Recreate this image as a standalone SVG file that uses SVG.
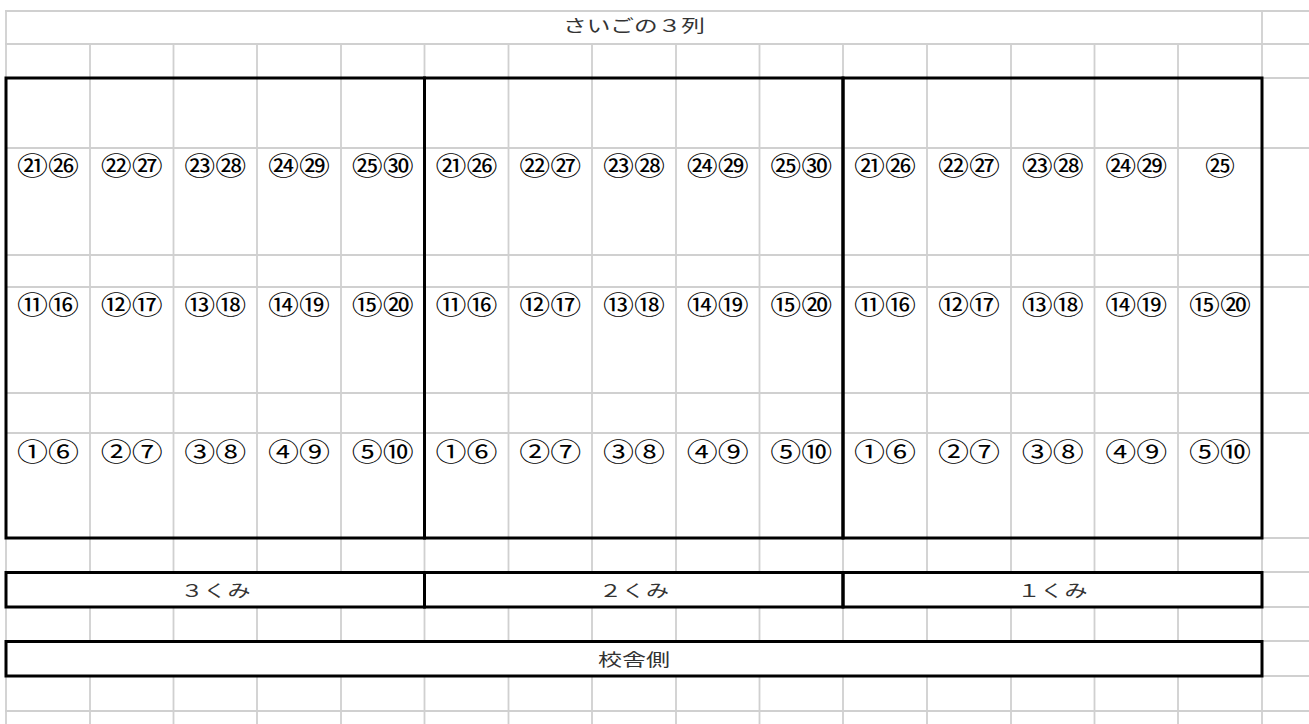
<svg xmlns="http://www.w3.org/2000/svg" width="1309" height="724" viewBox="0 0 1309 724">
<style>
.g{stroke:#d0d0d0;stroke-width:1.8;fill:none}
.b{stroke:#000;stroke-width:3;fill:none}
.n{font-family:"Noto Sans CJK JP","Liberation Sans",sans-serif;font-size:25px;fill:#000;text-anchor:middle}
.l{font-family:"Noto Sans CJK JP","Liberation Sans",sans-serif;font-size:17px;fill:#333;text-anchor:middle}
</style>
<rect width="1309" height="724" fill="#fff"/>
<g id="grid">
<path class="g" d="M5 11H1309M5 44H1309M5 78H1309M5 148H1309M5 255H1309M5 287H1309M5 393H1309M5 433H1309M5 538H1309M5 572H1309M5 607H1309M5 641H1309M5 676H1309M5 711H1309"/>
<path class="g" d="M6 11V724M1262 11V724"/>
<path class="g" d="M90 44V572M173.5 44V572M257 44V572M341 44V572M424.5 44V572M508.5 44V572M592 44V572M676 44V572M759.5 44V572M843 44V572M927 44V572M1011 44V572M1094.5 44V572M1178 44V572"/>
<path class="g" d="M90 607V641M173.5 607V641M257 607V641M341 607V641M424.5 607V641M508.5 607V641M592 607V641M676 607V641M759.5 607V641M843 607V641M927 607V641M1011 607V641M1094.5 607V641M1178 607V641"/>
<path class="g" d="M90 676V724M173.5 676V724M257 676V724M341 676V724M424.5 676V724M508.5 676V724M592 676V724M676 676V724M759.5 676V724M843 676V724M927 676V724M1011 676V724M1094.5 676V724M1178 676V724"/>
</g>
<g id="title">
<text class="l" x="634" y="31.5" textLength="142" lengthAdjust="spacingAndGlyphs">さいごの３列</text>
</g>
<g id="block-3">
<rect class="b" x="6" y="78" width="418.5" height="460"/>
<text class="n" x="48" y="175" textLength="62" lengthAdjust="spacingAndGlyphs">㉑㉖</text>
<text class="n" x="131.75" y="175" textLength="62" lengthAdjust="spacingAndGlyphs">㉒㉗</text>
<text class="n" x="215.25" y="175" textLength="62" lengthAdjust="spacingAndGlyphs">㉓㉘</text>
<text class="n" x="299" y="175" textLength="62" lengthAdjust="spacingAndGlyphs">㉔㉙</text>
<text class="n" x="382.75" y="175" textLength="62" lengthAdjust="spacingAndGlyphs">㉕㉚</text>
<text class="n" x="48" y="313.5" textLength="62" lengthAdjust="spacingAndGlyphs">⑪⑯</text>
<text class="n" x="131.75" y="313.5" textLength="62" lengthAdjust="spacingAndGlyphs">⑫⑰</text>
<text class="n" x="215.25" y="313.5" textLength="62" lengthAdjust="spacingAndGlyphs">⑬⑱</text>
<text class="n" x="299" y="313.5" textLength="62" lengthAdjust="spacingAndGlyphs">⑭⑲</text>
<text class="n" x="382.75" y="313.5" textLength="62" lengthAdjust="spacingAndGlyphs">⑮⑳</text>
<text class="n" x="48" y="460.5" textLength="62" lengthAdjust="spacingAndGlyphs">①⑥</text>
<text class="n" x="131.75" y="460.5" textLength="62" lengthAdjust="spacingAndGlyphs">②⑦</text>
<text class="n" x="215.25" y="460.5" textLength="62" lengthAdjust="spacingAndGlyphs">③⑧</text>
<text class="n" x="299" y="460.5" textLength="62" lengthAdjust="spacingAndGlyphs">④⑨</text>
<text class="n" x="382.75" y="460.5" textLength="62" lengthAdjust="spacingAndGlyphs">⑤⑩</text>
</g>
<g id="block-2">
<rect class="b" x="424.5" y="78" width="418.5" height="460"/>
<text class="n" x="466.5" y="175" textLength="62" lengthAdjust="spacingAndGlyphs">㉑㉖</text>
<text class="n" x="550.25" y="175" textLength="62" lengthAdjust="spacingAndGlyphs">㉒㉗</text>
<text class="n" x="634" y="175" textLength="62" lengthAdjust="spacingAndGlyphs">㉓㉘</text>
<text class="n" x="717.75" y="175" textLength="62" lengthAdjust="spacingAndGlyphs">㉔㉙</text>
<text class="n" x="801.25" y="175" textLength="62" lengthAdjust="spacingAndGlyphs">㉕㉚</text>
<text class="n" x="466.5" y="313.5" textLength="62" lengthAdjust="spacingAndGlyphs">⑪⑯</text>
<text class="n" x="550.25" y="313.5" textLength="62" lengthAdjust="spacingAndGlyphs">⑫⑰</text>
<text class="n" x="634" y="313.5" textLength="62" lengthAdjust="spacingAndGlyphs">⑬⑱</text>
<text class="n" x="717.75" y="313.5" textLength="62" lengthAdjust="spacingAndGlyphs">⑭⑲</text>
<text class="n" x="801.25" y="313.5" textLength="62" lengthAdjust="spacingAndGlyphs">⑮⑳</text>
<text class="n" x="466.5" y="460.5" textLength="62" lengthAdjust="spacingAndGlyphs">①⑥</text>
<text class="n" x="550.25" y="460.5" textLength="62" lengthAdjust="spacingAndGlyphs">②⑦</text>
<text class="n" x="634" y="460.5" textLength="62" lengthAdjust="spacingAndGlyphs">③⑧</text>
<text class="n" x="717.75" y="460.5" textLength="62" lengthAdjust="spacingAndGlyphs">④⑨</text>
<text class="n" x="801.25" y="460.5" textLength="62" lengthAdjust="spacingAndGlyphs">⑤⑩</text>
</g>
<g id="block-1">
<rect class="b" x="843" y="78" width="419" height="460"/>
<text class="n" x="885" y="175" textLength="62" lengthAdjust="spacingAndGlyphs">㉑㉖</text>
<text class="n" x="969" y="175" textLength="62" lengthAdjust="spacingAndGlyphs">㉒㉗</text>
<text class="n" x="1052.75" y="175" textLength="62" lengthAdjust="spacingAndGlyphs">㉓㉘</text>
<text class="n" x="1136.25" y="175" textLength="62" lengthAdjust="spacingAndGlyphs">㉔㉙</text>
<text class="n" x="1220" y="175" textLength="30" lengthAdjust="spacingAndGlyphs">㉕</text>
<text class="n" x="885" y="313.5" textLength="62" lengthAdjust="spacingAndGlyphs">⑪⑯</text>
<text class="n" x="969" y="313.5" textLength="62" lengthAdjust="spacingAndGlyphs">⑫⑰</text>
<text class="n" x="1052.75" y="313.5" textLength="62" lengthAdjust="spacingAndGlyphs">⑬⑱</text>
<text class="n" x="1136.25" y="313.5" textLength="62" lengthAdjust="spacingAndGlyphs">⑭⑲</text>
<text class="n" x="1220" y="313.5" textLength="62" lengthAdjust="spacingAndGlyphs">⑮⑳</text>
<text class="n" x="885" y="460.5" textLength="62" lengthAdjust="spacingAndGlyphs">①⑥</text>
<text class="n" x="969" y="460.5" textLength="62" lengthAdjust="spacingAndGlyphs">②⑦</text>
<text class="n" x="1052.75" y="460.5" textLength="62" lengthAdjust="spacingAndGlyphs">③⑧</text>
<text class="n" x="1136.25" y="460.5" textLength="62" lengthAdjust="spacingAndGlyphs">④⑨</text>
<text class="n" x="1220" y="460.5" textLength="62" lengthAdjust="spacingAndGlyphs">⑤⑩</text>
</g>
<g id="kumi-3">
<rect class="b" x="6" y="572.5" width="418.5" height="34.5"/>
<text class="l" x="215.5" y="596.5" textLength="70" lengthAdjust="spacingAndGlyphs">３くみ</text>
</g>
<g id="kumi-2">
<rect class="b" x="424.5" y="572.5" width="418.5" height="34.5"/>
<text class="l" x="634" y="596.5" textLength="70" lengthAdjust="spacingAndGlyphs">２くみ</text>
</g>
<g id="kumi-1">
<rect class="b" x="843" y="572.5" width="419" height="34.5"/>
<text class="l" x="1052.5" y="596.5" textLength="70" lengthAdjust="spacingAndGlyphs">１くみ</text>
</g>
<g id="kousha">
<rect class="b" x="6" y="641.5" width="1256" height="34.5"/>
<text class="l" x="634" y="666" textLength="72" lengthAdjust="spacingAndGlyphs">校舎側</text>
</g>
<g id="connectors"/>
</svg>
